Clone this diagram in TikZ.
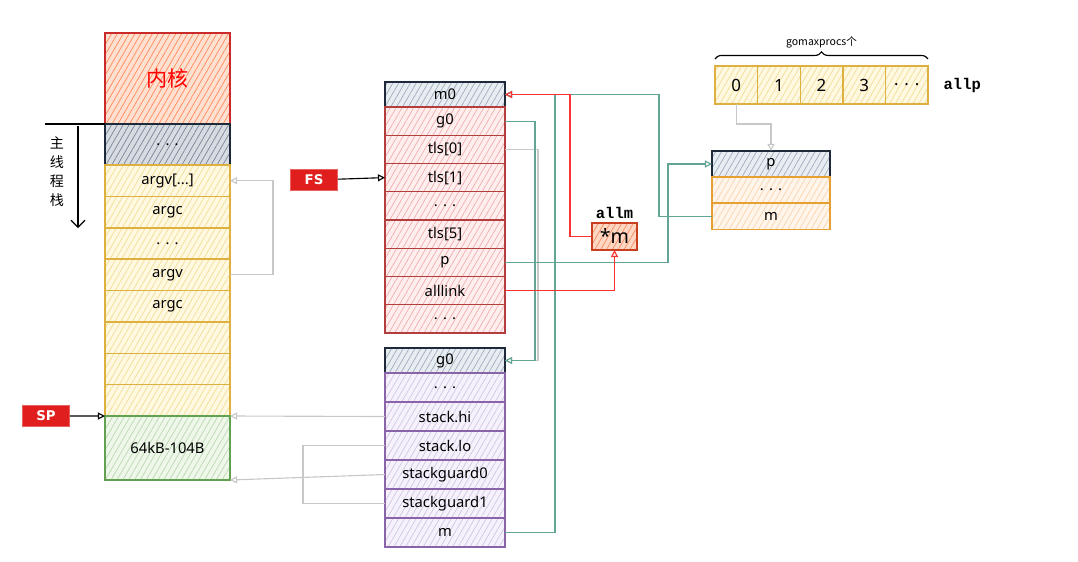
\documentclass[tikz,border=0pt]{standalone}
\usepackage{fontspec}
\setmainfont{Noto Sans}
\setmonofont{Liberation Mono}
\newfontfamily\cjkfont{Noto Sans CJK SC}
\newfontfamily\tagfont{DejaVu Sans}
\usetikzlibrary{arrows.meta, positioning, patterns.meta, decorations.pathreplacing}
\definecolor{kernbd}{RGB}{201,42,42}
\definecolor{kernfl}{RGB}{255,225,210}
\definecolor{kernht}{RGB}{255,135,90}
\definecolor{slatebd}{RGB}{30,42,58}
\definecolor{slatefl}{RGB}{232,237,242}
\definecolor{slateht}{RGB}{160,172,188}
\definecolor{dotsfl}{RGB}{215,220,226}
\definecolor{dotsht}{RGB}{120,132,148}
\definecolor{yelbd}{RGB}{222,176,64}
\definecolor{yelfl}{RGB}{255,249,226}
\definecolor{yelht}{RGB}{242,220,150}
\definecolor{grnbd}{RGB}{98,160,82}
\definecolor{grnfl}{RGB}{238,247,234}
\definecolor{grnht}{RGB}{185,218,175}
\definecolor{redbd}{RGB}{178,62,62}
\definecolor{redfl}{RGB}{255,238,238}
\definecolor{redht}{RGB}{240,175,175}
\definecolor{purbd}{RGB}{138,100,168}
\definecolor{purfl}{RGB}{246,242,251}
\definecolor{purht}{RGB}{208,198,228}
\definecolor{orabd}{RGB}{230,160,50}
\definecolor{orafl}{RGB}{255,245,234}
\definecolor{oraht}{RGB}{250,212,175}
\definecolor{starbd}{RGB}{200,62,30}
\definecolor{starfl}{RGB}{255,215,195}
\definecolor{starht}{RGB}{245,140,100}
\definecolor{tealln}{RGB}{98,165,148}
\definecolor{redln}{RGB}{250,50,50}
\definecolor{grayln}{RGB}{200,200,200}
\definecolor{tagred}{RGB}{225,30,30}
\tikzset{
  cell/.style n args={3}{draw=#1,line width=1pt,inner sep=0pt,outer sep=0pt,
    preaction={fill=#2},
    preaction={pattern={Lines[angle=60,distance=3.6pt,line width=.5pt]},pattern color=#3},
    font=\fontsize{10.5}{12}\selectfont},
  stackcell/.style={cell={yelbd}{yelfl}{yelht},minimum width=3.125cm,minimum height=0.785cm},
  mcell/.style={cell={redbd}{redfl}{redht},minimum width=3cm,minimum height=0.706cm},
  gcell/.style={cell={purbd}{purfl}{purht},minimum width=3cm,minimum height=0.725cm},
  pcell/.style={cell={orabd}{orafl}{oraht},minimum width=2.95cm,minimum height=0.65cm},
  apcell/.style={cell={yelbd}{yelfl}{yelht},minimum width=1.065cm,minimum height=0.95cm,
    font=\fontsize{12}{14}\selectfont},
  headcell/.style={cell={slatebd}{slatefl}{slateht},minimum height=0.625cm},
  tag/.style={fill=tagred,draw=tagred!70!white,text=white,font=\tagfont\bfseries\fontsize{9.5}{12}\selectfont,
    minimum width=1.18cm,minimum height=0.52cm,inner sep=0pt},
  monolabel/.style={font=\ttfamily\bfseries\fontsize{11}{13}\selectfont,inner sep=1pt},
  link/.style={-{Triangle[open,length=5pt,width=5pt]},line width=.8pt},
  grayline/.style={link,grayln},
  tealline/.style={link,tealln},
  redline/.style={link,redln},
}
\begin{document}
\begin{tikzpicture}[x=0.025cm,y=-0.025cm]
  \useasboundingbox (0,0) rectangle (1078,561);
  % Main thread stack
  \node[cell={kernbd}{kernfl}{kernht},minimum width=3.125cm,minimum height=2.275cm,
    text=red,font=\cjkfont\fontsize{15}{17}\selectfont] (kern) at (167.5,78.5) {内核};
  \node[cell={slatebd}{dotsfl}{dotsht},minimum width=3.125cm,minimum height=1.025cm] (kdots) at (167.5,144.5) {. . .};
  \node[stackcell] (argvx) at (167.5,180.7) {argv[...]};
  \node[stackcell] (argca) at (167.5,212.1) {argc};
  \node[stackcell] (ldots) at (167.5,243.5) {. . .};
  \node[stackcell] (argv)  at (167.5,274.8) {argv};
  \node[stackcell] (argcb) at (167.5,306.2) {argc};
  \node[stackcell] (free1) at (167.5,337.6) {};
  \node[stackcell] (free2) at (167.5,369.0) {};
  \node[stackcell] (free3) at (167.5,400.3) {};
  \node[cell={grnbd}{grnfl}{grnht},minimum width=3.125cm,minimum height=1.6cm] (res) at (167.5,448) {64kB-104B};
  % stack annotation
  \coordinate (annotop) at (45,124);
  \coordinate (annofrom) at (78,126);
  \coordinate (annoto) at (78,228);
  \draw[line width=1.2pt] (annotop) -- (kern.south west);
  \draw[-{Straight Barb[length=5pt]},line width=.8pt] (annofrom) -- (annoto);
  \node[font=\cjkfont\fontsize{10}{13.5}\selectfont,align=center] (zhu) at (57,172) {主\\线\\程\\栈};
  \node[tag] (sp) at (46,416) {SP};
  \draw[link,black] (sp) -- (free3.south west);
  % m0
  \node[headcell,minimum width=3cm] (m0) at (445,94.5) {m0};
  \node[mcell] (g0)      at (445,121.1) {g0};
  \node[mcell] (tls0)    at (445,149.4) {tls[0]};
  \node[mcell] (tls1)    at (445,177.6) {tls[1]};
  \node[mcell] (tdots)   at (445,205.9) {. . .};
  \node[mcell] (tls5)    at (445,234.1) {tls[5]};
  \node[mcell] (mp)      at (445,262.4) {p};
  \node[mcell] (alllink) at (445,290.6) {alllink};
  \node[mcell] (mdots)   at (445,318.9) {. . .};
  \node[tag] (fs) at (314,180) {FS};
  \draw[link,black] (fs) -- (tls1.west);
  % g0
  \node[headcell,minimum width=3cm] (gz) at (445,360.5) {g0};
  \node[gcell] (gdots) at (445,387.5) {. . .};
  \node[gcell] (hi)    at (445,416.5) {stack.hi};
  \node[gcell] (lo)    at (445,445.5) {stack.lo};
  \node[gcell] (sg0)   at (445,474.5) {stackguard0};
  \node[gcell] (sg1)   at (445,503.5) {stackguard1};
  \node[gcell] (gm)    at (445,532.5) {m};
  % allm
  \node[cell={starbd}{starfl}{starht},minimum width=1.125cm,minimum height=0.675cm,
    font=\fontsize{14}{16}\selectfont] (star) at (614.5,236.5) {*m};
  \node[monolabel,above=2pt of star] (allm) {allm};
  % allp and p
  \node[apcell] (a0) at (736.3,85) {0};
  \node[apcell] (a1) at (778.9,85) {1};
  \node[apcell] (a2) at (821.5,85) {2};
  \node[apcell] (a3) at (864.1,85) {3};
  \node[apcell] (adots) at (906.7,85) {. . .};
  \node[monolabel,right=0.35cm of adots] (allp) {allp};
  \draw[decorate,decoration={brace,amplitude=5pt},line width=.8pt]
    ([yshift=5pt]a0.north west) -- ([yshift=5pt]adots.north east)
    node[midway,above=4pt,font=\cjkfont\fontsize{7.5}{8}\selectfont] (gmp) {gomaxprocs个};
  \node[headcell,minimum width=2.95cm,minimum height=0.65cm] (pp) at (771,164) {p};
  \node[pcell] (pdots) at (771,190) {. . .};
  \node[pcell] (pm)    at (771,216.5) {m};
  % links
  \draw[grayline] (argv.east) -- ++(43,0) |- (argvx.east);
  \draw[grayline] (hi.west) -- (free3.south east);
  \draw[grayline] (sg0.west) -- (res.south east);
  \draw[grayln,line width=.8pt] (lo.west) -- ++(-82,0) |- (sg1.west);
  \draw[grayline] (tls0.east) -- ++(33,0) |- (gz.east);
  \draw[tealline] (g0.east) -- ++(30,0) |- (gz.east);
  \draw[tealline] (gm.east) -- ++(50,0) |- (m0.east);
  \draw[tealline] (pm.west) -- ++(-53,0) |- (m0.east);
  \draw[tealline] (mp.east) -- ++(163,0) |- (pp.west);
  \draw[redline] (alllink.east) -| (star.south);
  \draw[redline] (star.west) -- ++(-22,0) |- (m0.east);
  \draw[grayline] (a0.south) -- ++(0,20) -| (pp.north);
\end{tikzpicture}
\end{document}
